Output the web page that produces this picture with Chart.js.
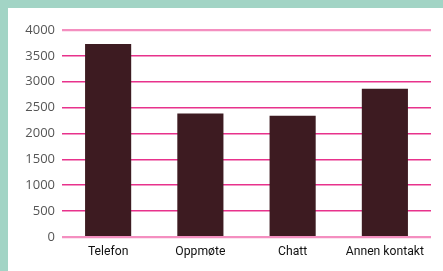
<!DOCTYPE html>
<html>
<head>
<meta charset="utf-8">
<script src="https://cdn.jsdelivr.net/npm/chart.js@4"></script>
<style>
  html, body { margin: 0; padding: 0; }
  body { width: 443px; height: 271px; background: #a2d4c5; position: relative; overflow: hidden; }
  #boks { position: absolute; left: 8px; top: 8px; width: 435px; height: 263px; background: #fff; }
</style>
</head>
<body>
<div id="boks"><canvas id="graf" width="435" height="263"></canvas></div>
<script>
// kategorier og verdier
var kategorier = ["Telefon", "Oppmøte", "Chatt", "Annen kontakt"];
var verdier = [3730, 2385, 2345, 2865];
var yTicks = [0, 500, 1000, 1500, 2000, 2500, 3000, 3500, 4000];

var ctx = document.getElementById("graf");

// farger for gridlinjene (0 og 4000 lysere og tykkere)
var linjeFarger = yTicks.map(v => (v === 0 || v === 4000) ? '#f48fc0' : '#e8328c');
var linjeBredder = yTicks.map(v => (v === 0 || v === 4000) ? 2.2 : 1.6);

var graf = new Chart(ctx, {
    type: 'bar',
    data: {
        labels: kategorier,
        datasets: [{
            data: verdier,
            backgroundColor: '#3d1b21',
            categoryPercentage: 1,
            barPercentage: 0.5
        }]
    },
    options: {
        responsive: false,
        animation: false,
        layout: {
            padding: { top: 22, right: 12, bottom: 2, left: 0 }
        },
        plugins: {
            legend: { display: false },
            tooltip: { enabled: false }
        },
        scales: {
            x: {
                grid: { display: false, drawTicks: false },
                border: { display: false },
                ticks: {
                    color: '#111',
                    padding: 8,
                    font: { family: 'Roboto', size: 12.2 }
                },
                afterFit: (s) => { s.height = 32; }
            },
            y: {
                min: 0,
                max: 4000,
                afterBuildTicks: (s) => { s.ticks = yTicks.map(v => ({ value: v })); },
                grid: {
                    drawTicks: false,
                    color: linjeFarger,
                    lineWidth: linjeBredder
                },
                border: { display: false },
                ticks: {
                    color: '#555',
                    padding: 7,
                    font: { family: 'Open Sans', size: 13 },
                    callback: (v) => String(v)
                },
                afterFit: (s) => { s.width = 54; }
            }
        }
    }
});
</script>
</body>
</html>
